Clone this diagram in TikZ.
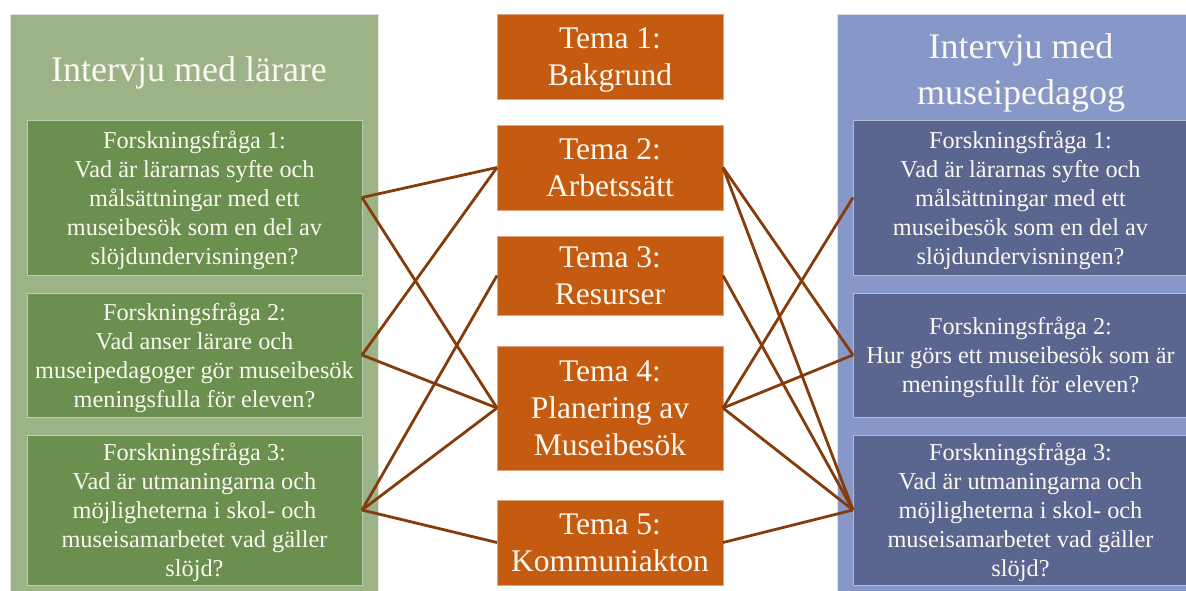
\documentclass[tikz,border=0pt]{standalone}
\usepackage{fontspec}
\setmainfont{Liberation Serif}
\definecolor{panelG}{HTML}{9BB387}
\definecolor{boxG}{HTML}{6A8F4F}
\definecolor{panelB}{HTML}{8798C8}
\definecolor{boxB}{HTML}{5A6690}
\definecolor{temaO}{HTML}{C55A11}
\definecolor{linkC}{HTML}{843C0C}
\definecolor{txtC}{HTML}{FBF8F0}
\tikzset{
  panelbox/.style={rectangle, inner sep=0pt, outer sep=0pt, anchor=north west, draw=white!70!#1, line width=0.8pt, fill=#1},
  qbox/.style={rectangle, inner sep=0pt, outer sep=0pt, minimum width=335pt, draw=white!55!#1, line width=0.8pt, fill=#1, text=txtC, align=center, text depth=0pt, font=\fontsize{24.3}{29}\selectfont},
  temabox/.style={rectangle, inner sep=0pt, outer sep=0pt, minimum width=226pt, draw=white!45!temaO, line width=0.8pt, fill=temaO, text=txtC, align=center, text depth=0pt, font=\fontsize{31.5}{37}\selectfont},
  titletext/.style={text=txtC, align=center, font=\fontsize{36}{46}\selectfont},
  link/.style={draw=linkC, line width=2.8pt}
}
\begin{document}
\begin{tikzpicture}[x=1pt,y=-1pt]
\useasboundingbox (0,0) rectangle (1186,590);
\clip (0,0) rectangle (1186,590);
\fill[white] (0,0) rectangle (1186,590);
% panels
\node[panelbox=panelG, minimum width=368pt, minimum height=580pt] (pl) at (10,14) {};
\node[panelbox=panelB, minimum width=368pt, minimum height=580pt] (pr) at (837,14) {};
\node[titletext] (tl) at (189,73) {Intervju med lärare};
\node[titletext] (tr) at (1021,73) {Intervju med\\museipedagog};
% left questions
\node[qbox=boxG, minimum height=155pt] (l1) at (194.5,197.5) {Forskningsfråga 1:\\Vad är lärarnas syfte och\\målsättningar med ett\\museibesök som en del av\\slöjdundervisningen?};
\node[qbox=boxG, minimum height=124pt] (l2) at (194.5,355) {Forskningsfråga 2:\\Vad anser lärare och\\museipedagoger gör museibesök\\meningsfulla för eleven?};
\node[qbox=boxG, minimum height=150pt] (l3) at (194.5,510) {Forskningsfråga 3:\\Vad är utmaningarna och\\möjligheterna i skol- och\\museisamarbetet vad gäller\\slöjd?};
% right questions
\node[qbox=boxB, minimum height=155pt] (r1) at (1020.5,197.5) {Forskningsfråga 1:\\Vad är lärarnas syfte och\\målsättningar med ett\\museibesök som en del av\\slöjdundervisningen?};
\node[qbox=boxB, minimum height=124pt] (r2) at (1020.5,355) {Forskningsfråga 2:\\Hur görs ett museibesök som är\\meningsfullt för eleven?};
\node[qbox=boxB, minimum height=150pt] (r3) at (1020.5,510) {Forskningsfråga 3:\\Vad är utmaningarna och\\möjligheterna i skol- och\\museisamarbetet vad gäller\\slöjd?};
% temas
\node[temabox, minimum height=85pt] (t1) at (610,56.5) {Tema 1:\\Bakgrund};
\node[temabox, minimum height=85pt] (t2) at (610,167.5) {Tema 2:\\Arbetssätt};
\node[temabox, minimum height=79pt] (t3) at (610,275.5) {Tema 3:\\Resurser};
\node[temabox, minimum height=124pt] (t4) at (610,408) {Tema 4:\\Planering av\\Museibesök};
\node[temabox, minimum height=85pt] (t5) at (610,542.5) {Tema 5:\\Kommuniakton};
% links left
\draw[link] (l1.east) -- (t2.west);
\draw[link] (l1.east) -- (t4.west);
\draw[link] (l2.east) -- (t2.west);
\draw[link] (l2.east) -- (t4.west);
\draw[link] (l3.east) -- (t3.west);
\draw[link] (l3.east) -- (t4.west);
\draw[link] (l3.east) -- (t5.west);
% links right
\draw[link] (t2.east) -- (r2.west);
\draw[link] (t2.east) -- (r3.west);
\draw[link] (t3.east) -- (r3.west);
\draw[link] (t4.east) -- (r1.west);
\draw[link] (t4.east) -- (r2.west);
\draw[link] (t4.east) -- (r3.west);
\draw[link] (t5.east) -- (r3.west);
\end{tikzpicture}
\end{document}
